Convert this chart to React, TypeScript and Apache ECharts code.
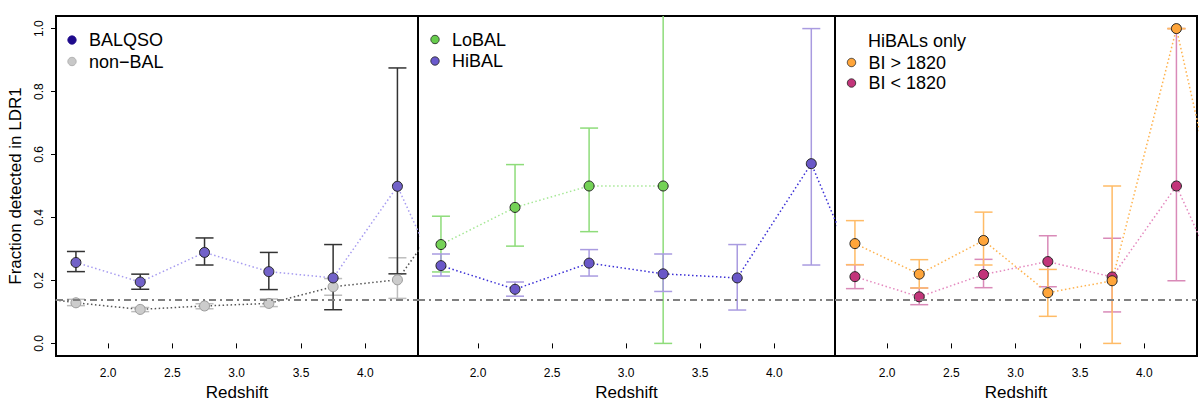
import React, { useEffect, useRef } from 'react';
import * as echarts from 'echarts';

// redshift bin centres
const zBins = [1.75, 2.25, 2.75, 3.25, 3.75, 4.25];
const loBalZ = [1.75, 2.25, 2.75, 3.25];
// neighbouring bins, outside the frame: only the dotted lines reach them
const zPrev = 1.25;
const zNext = 4.75;

// panel 1
const balqso = [0.257, 0.195, 0.289, 0.228, 0.208, 0.499];
const balqsoLo = [0.228, 0.172, 0.249, 0.171, 0.107, 0.221];
const balqsoHi = [0.292, 0.22, 0.335, 0.289, 0.314, 0.875];
const balqsoNext = 0.055;
const nonBal = [0.129, 0.108, 0.119, 0.127, 0.18, 0.202];
const nonBalLo = [0.12, 0.101, 0.11, 0.117, 0.153, 0.143];
const nonBalHi = [0.14, 0.114, 0.126, 0.141, 0.206, 0.272];
const nonBalPrev = 0.157;
const nonBalNext = 0.486;

// panel 2
const loBal = [0.314, 0.432, 0.5, 0.5];
const loBalLo = [0.227, 0.309, 0.355, 0.0];
const loBalHi = [0.404, 0.568, 0.684, 1.08];
const hiBal = [0.247, 0.172, 0.255, 0.221, 0.208, 0.571];
const hiBalLo = [0.214, 0.15, 0.214, 0.165, 0.106, 0.249];
const hiBalHi = [0.284, 0.195, 0.298, 0.284, 0.314, 1.0];
const hiBalNext = 0.013;

// panel 3 (HiBALs only)
const biHigh = [0.317, 0.22, 0.327, 0.161, 0.199, 1.0];
const biHighLo = [0.25, 0.176, 0.249, 0.086, 0.0, 1.0];
const biHighHi = [0.39, 0.266, 0.417, 0.235, 0.5, 1.0];
const biHighNext = 0.094;
const biLow = [0.212, 0.148, 0.219, 0.26, 0.211, 0.5];
const biLowLo = [0.174, 0.123, 0.177, 0.18, 0.1, 0.199];
const biLowHi = [0.25, 0.176, 0.267, 0.342, 0.334, 1.0];
const biLowNext = 0.05;

// reference fraction (dash-dot line)
const refFraction = 0.143;

const xTicks = [2.0, 2.5, 3.0, 3.5, 4.0];
const yTicks = [0.0, 0.2, 0.4, 0.6, 0.8, 1.0];

const FONT = 'Liberation Sans, Arial, sans-serif';

const pts = (z: number[], v: number[]) => z.map((x, i) => [x, v[i]]);
const bars = (z: number[], lo: number[], hi: number[]) => z.map((x, i) => [x, lo[i], hi[i]]);

const errorSeries = (idx: number, data: number[][], color: string) => ({
  type: 'custom',
  xAxisIndex: idx,
  yAxisIndex: idx,
  clip: true,
  silent: true,
  z: 2,
  encode: { x: 0, y: [1, 2] },
  data,
  renderItem: (params: any, api: any) => {
    const lo = api.coord([api.value(0), api.value(1)]);
    const hi = api.coord([api.value(0), api.value(2)]);
    const w = 9;
    const style = { stroke: color, lineWidth: 1.5 };
    return {
      type: 'group',
      children: [
        { type: 'line', shape: { x1: lo[0], y1: lo[1], x2: hi[0], y2: hi[1] }, style },
        { type: 'line', shape: { x1: lo[0] - w, y1: lo[1], x2: lo[0] + w, y2: lo[1] }, style },
        { type: 'line', shape: { x1: hi[0] - w, y1: hi[1], x2: hi[0] + w, y2: hi[1] }, style },
      ],
    };
  },
});

const lineSeries = (idx: number, data: number[][], color: string, ref = false) => ({
  type: 'line',
  xAxisIndex: idx,
  yAxisIndex: idx,
  clip: true,
  silent: true,
  showSymbol: false,
  symbol: 'none',
  z: 3,
  data,
  lineStyle: { color, width: 1.5, type: [1.5, 2.5] },
  markLine: ref
    ? {
        silent: true,
        symbol: 'none',
        label: { show: false },
        lineStyle: { color: '#808080', width: 1.8, type: [7, 4, 2, 4] },
        data: [{ yAxis: refFraction }],
      }
    : undefined,
});

const pointSeries = (idx: number, data: number[][], color: string, border = '#222') => ({
  type: 'scatter',
  xAxisIndex: idx,
  yAxisIndex: idx,
  silent: true,
  z: 4,
  symbolSize: 10,
  data,
  itemStyle: { color, borderColor: border, borderWidth: 1, opacity: 1 },
});

const legendEntry = (x: number, y: number, label: string, color: string, border: string) => [
  { type: 'circle', shape: { cx: x, cy: y, r: 4.2 }, style: { fill: color, stroke: border, lineWidth: 0.8 } },
  {
    type: 'text',
    x: x + 17,
    y,
    style: { text: label, font: `18px ${FONT}`, fill: '#000', verticalAlign: 'middle' },
  },
];

const grids = [
  { left: 56, width: 362 },
  { left: 418, width: 417 },
  { left: 835, width: 362 },
];

const App: React.FC = () => {
  const chartRef = useRef<HTMLDivElement>(null);

  useEffect(() => {
    if (!chartRef.current) return undefined;
    const chart = echarts.init(chartRef.current, undefined, { renderer: 'svg' });

    const option: any = {
      animation: false,
      textStyle: { fontFamily: FONT },
      grid: grids.map((g) => ({
        left: g.left,
        width: g.width,
        top: 16,
        height: 340,
        show: true,
        borderColor: '#000',
        borderWidth: 2,
        backgroundColor: 'transparent',
      })),
      xAxis: grids.map((_, i) => ({
        type: 'value',
        gridIndex: i,
        min: 1.595,
        max: 4.41,
        axisLine: { show: false },
        splitLine: { show: false },
        axisTick: { show: true, customValues: xTicks, length: 5, lineStyle: { color: '#000', width: 1 } },
        axisLabel: {
          customValues: xTicks,
          formatter: (v: number) => v.toFixed(1),
          fontSize: 12,
          color: '#000',
          margin: 11,
        },
        name: 'Redshift',
        nameLocation: 'middle',
        nameGap: 28,
        nameTextStyle: { fontSize: 17, color: '#000' },
      })),
      yAxis: grids.map((_, i) => ({
        type: 'value',
        gridIndex: i,
        min: -0.04,
        max: 1.04,
        axisLine: { show: false },
        splitLine: { show: false },
        axisTick: { show: i === 0, customValues: yTicks, length: 5, lineStyle: { color: '#000', width: 1 } },
        axisLabel: {
          show: i === 0,
          customValues: yTicks,
          rotate: 90,
          formatter: (v: number) => v.toFixed(1),
          fontSize: 12,
          color: '#000',
          margin: 11,
        },
        name: i === 0 ? 'Fraction detected in LDR1' : '',
        nameLocation: 'middle',
        nameGap: 32,
        nameTextStyle: { fontSize: 17, color: '#000' },
      })),
      graphic: [
        ...legendEntry(72, 40, 'BALQSO', '#1E0A8C', '#1E0A8C'),
        ...legendEntry(72, 61.5, 'non\u2212BAL', '#C8C8C8', '#A8A8A8'),
        ...legendEntry(435, 39.5, 'LoBAL', '#66CC4C', '#222'),
        ...legendEntry(435, 61, 'HiBAL', '#6A5ACD', '#222'),
        {
          type: 'text',
          x: 868,
          y: 40.5,
          style: { text: 'HiBALs only', font: `18px ${FONT}`, fill: '#000', verticalAlign: 'middle' },
        },
        ...legendEntry(851.5, 62.5, 'BI > 1820', '#FFA53A', '#222'),
        ...legendEntry(851.5, 83, 'BI < 1820', '#C2357A', '#222'),
      ],
      series: [
        // panel 1
        errorSeries(0, bars(zBins, nonBalLo, nonBalHi), '#BDBDBD'),
        errorSeries(0, bars(zBins, balqsoLo, balqsoHi), '#333333'),
        lineSeries(0, [[zPrev, nonBalPrev], ...pts(zBins, nonBal), [zNext, nonBalNext]], '#555555', true),
        lineSeries(0, [...pts(zBins, balqso), [zNext, balqsoNext]], '#A79CF0'),
        pointSeries(0, pts(zBins, nonBal), '#CCCCCC', '#9A9A9A'),
        pointSeries(0, pts(zBins, balqso), '#7262C8'),
        // panel 2
        errorSeries(1, bars(loBalZ, loBalLo, loBalHi), '#8EDC7A'),
        errorSeries(1, bars(zBins, hiBalLo, hiBalHi), '#A99BE0'),
        lineSeries(1, pts(loBalZ, loBal), '#A6E896', true),
        lineSeries(1, [...pts(zBins, hiBal), [zNext, hiBalNext]], '#3B2FD6'),
        pointSeries(1, pts(loBalZ, loBal), '#74D256'),
        pointSeries(1, pts(zBins, hiBal), '#6A58C8'),
        // panel 3
        errorSeries(2, bars(zBins, biLowLo, biLowHi), '#D98AB8'),
        errorSeries(2, bars(zBins, biHighLo, biHighHi), '#FFBB66'),
        lineSeries(2, [...pts(zBins, biLow), [zNext, biLowNext]], '#E488BE', true),
        lineSeries(2, [...pts(zBins, biHigh), [zNext, biHighNext]], '#FFB24D'),
        pointSeries(2, pts(zBins, biLow), '#C2357A'),
        pointSeries(2, pts(zBins, biHigh), '#FFA53A'),
      ],
    };
    chart.setOption(option);

    return () => {
      chart.dispose();
    };
  }, []);

  return (
    <div
      ref={chartRef}
      style={{ position: 'absolute', left: 0, top: 0, width: '1200px', height: '408px', background: '#fff' }}
    />
  );
};

export default App;
